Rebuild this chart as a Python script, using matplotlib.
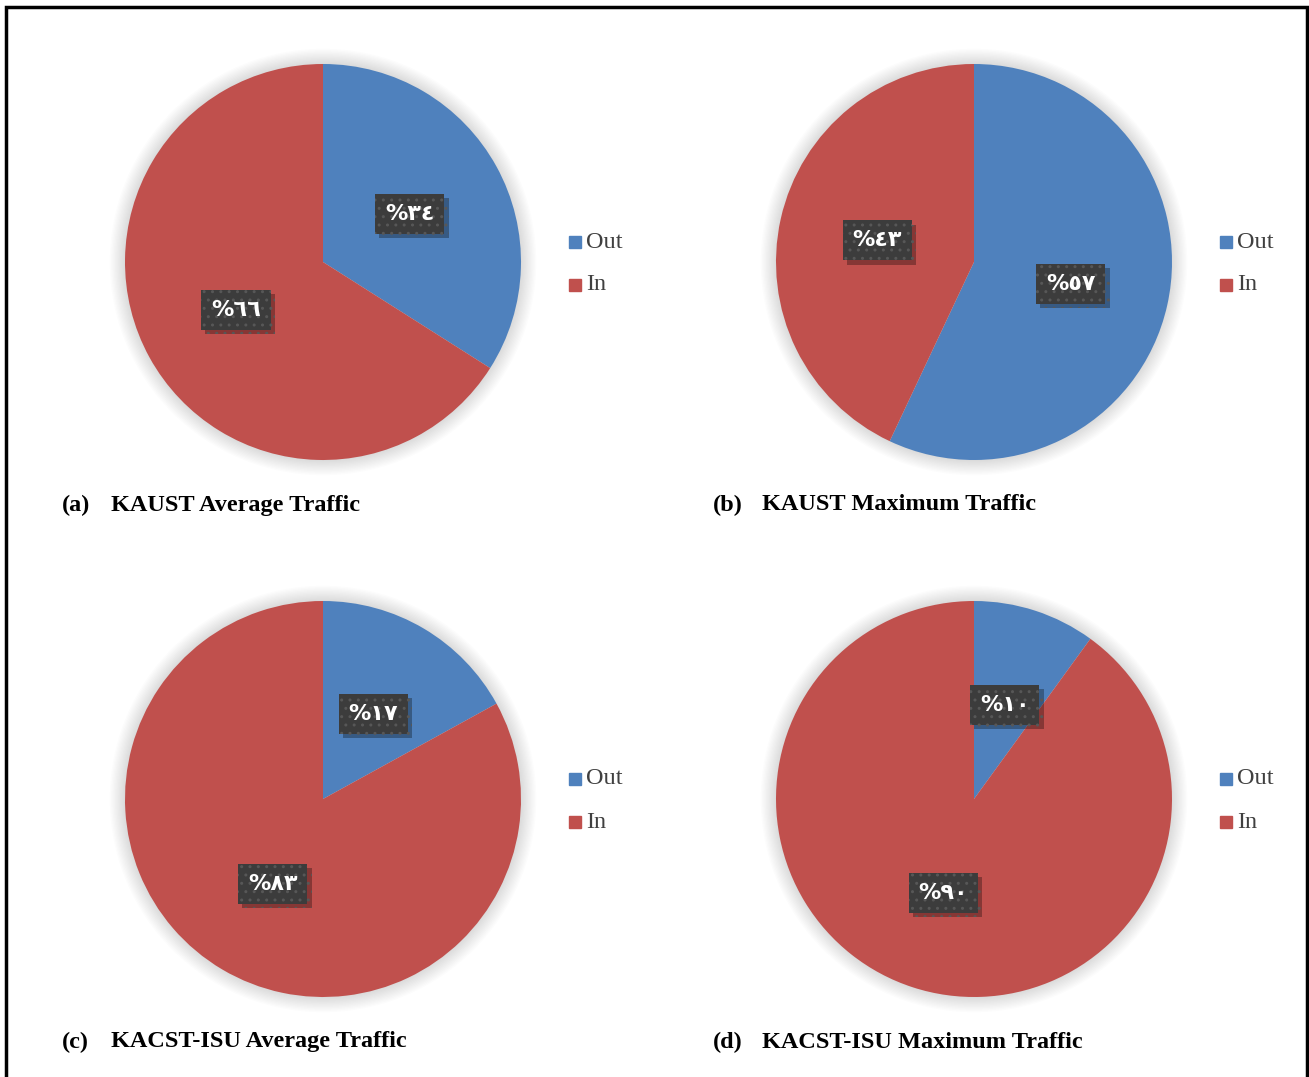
import matplotlib
matplotlib.use("Agg")
import matplotlib.pyplot as plt
import matplotlib.patheffects as pe
from matplotlib.patches import Circle
import numpy as np

W, H = 1309, 1077

legend_labels = ["Out", "In"]
colors = ["#4F81BD", "#C0504D"]
captions = ["(a)", "(b)", "(c)", "(d)"]
titles = ["KAUST Average Traffic", "KAUST Maximum Traffic",
          "KACST-ISU Average Traffic", "KACST-ISU Maximum Traffic"]
out_values = [34, 57, 17, 10]
in_values = [66, 43, 83, 90]

AR = str.maketrans("0123456789", "٠١٢٣٤٥٦٧٨٩")

def ar_pct(v):
    return "%" + str(int(round(v))).translate(AR)

fig = plt.figure(figsize=(W / 100, H / 100), dpi=100)
ax = fig.add_axes([0, 0, 1, 1])
ax.set_xlim(0, W)
ax.set_ylim(0, H)
ax.set_aspect("equal")
ax.axis("off")

# border
ax.plot([6, 6, 1307, 1307], [0, H - 7, H - 7, 0], color="black", lw=2.5,
        solid_joinstyle="miter")

centers = [(323, 262), (974, 262), (323, 799), (974, 799)]
R = 198
for i, (cx, cy) in enumerate(centers):
    c = (cx, H - cy)
    # soft shadow glow
    for k in range(12):
        ax.add_patch(Circle(c, R + 1 + k * 1.3, color="black", alpha=0.010,
                            lw=0, zorder=1))
    vals = [out_values[i], in_values[i]]
    ax.pie(vals, colors=colors, startangle=90, counterclock=False,
           center=c, radius=R, frame=True,
           wedgeprops=dict(linewidth=0, zorder=2))
    tot = sum(vals)
    start = 90.0
    for v in vals:
        ang = start - 360.0 * v / tot / 2
        start -= 360.0 * v / tot
        lx = c[0] + 0.5 * R * np.cos(np.radians(ang))
        ly = c[1] + 0.5 * R * np.sin(np.radians(ang))
        txt = ar_pct(100.0 * v / tot)
        t = ax.text(lx, ly, txt, ha="center", va="center", fontsize=16,
                    fontweight="bold", color="white", family=["DejaVu Sans"],
                    bbox=dict(boxstyle="square,pad=0.45", fc="#3c3c3c",
                              ec="#575757", lw=0, hatch=".."), zorder=5)
        t.get_bbox_patch().set_path_effects([
            pe.SimplePatchShadow(offset=(3, -3), shadow_rgbFace="black",
                                 alpha=0.3),
            pe.Normal()])
    ax.set_xlim(0, W)
    ax.set_ylim(0, H)
    ax.axis("off")

    # legend
    lx0 = cx + 252
    for j, lab in enumerate(legend_labels):
        yy = H - (cy - 20 + j * 43)
        ax.plot([lx0], [yy], marker="s", ms=9, color=colors[j], ls="none",
                zorder=6)
        ax.text(lx0 + 11, yy, lab, ha="left", va="center", fontsize=17.5,
                family="Liberation Serif", color="#404040", zorder=6)

    # caption
    capy = H - (cy + 243)
    ax.text(cx - 261, capy, captions[i], ha="left", va="center", fontsize=17.5,
            fontweight="bold", family="Liberation Serif", color="black")
    ax.text(cx - 212, capy, titles[i], ha="left", va="center", fontsize=17.5,
            fontweight="bold", family="Liberation Serif", color="black")

fig.savefig("out.png", dpi=100)
